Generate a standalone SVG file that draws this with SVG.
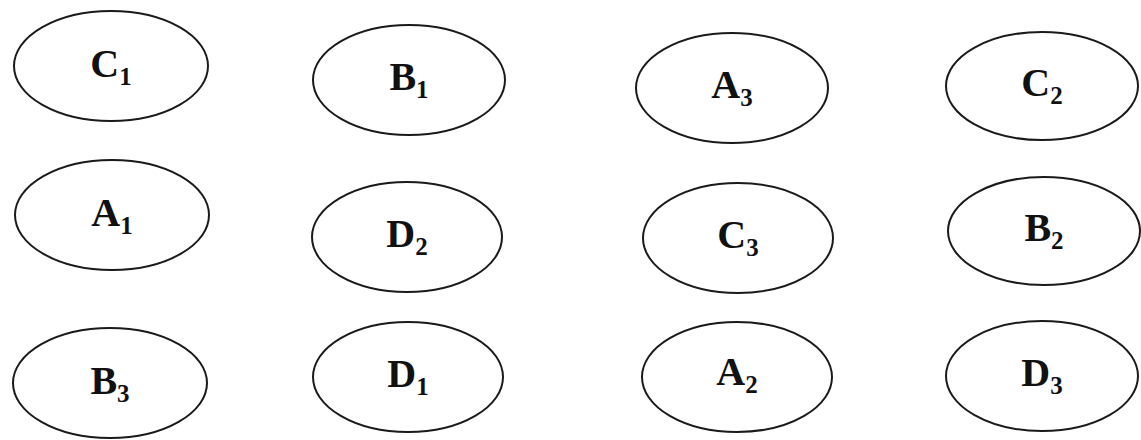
<svg xmlns="http://www.w3.org/2000/svg" width="1141" height="440" viewBox="0 0 1141 440">
<style>
  .node ellipse { fill: #ffffff; stroke: #1a1a1a; stroke-width: 2; }
  .lbl { font-family: "Liberation Serif", "Times New Roman", serif; font-weight: bold; font-size: 40px; fill: #111; text-anchor: middle; }
  .sub { font-size: 25px; }
</style>
<rect width="1141" height="440" fill="#ffffff"/>
<g id="connectors"></g>
<g id="C1" class="node"><ellipse cx="111" cy="66" rx="97" ry="55"/><text class="lbl" x="111" y="77">C<tspan class="sub" dy="8">1</tspan></text></g>
<g id="A1" class="node"><ellipse cx="112" cy="215" rx="97" ry="55"/><text class="lbl" x="112" y="226">A<tspan class="sub" dy="8">1</tspan></text></g>
<g id="B3" class="node"><ellipse cx="110" cy="383" rx="97" ry="55"/><text class="lbl" x="110" y="394">B<tspan class="sub" dy="8">3</tspan></text></g>
<g id="B1" class="node"><ellipse cx="409" cy="80" rx="96" ry="55"/><text class="lbl" x="409" y="90">B<tspan class="sub" dy="8">1</tspan></text></g>
<g id="D2" class="node"><ellipse cx="407" cy="237" rx="95" ry="55"/><text class="lbl" x="407" y="247">D<tspan class="sub" dy="8">2</tspan></text></g>
<g id="D1" class="node"><ellipse cx="408" cy="377" rx="95" ry="55"/><text class="lbl" x="408" y="387">D<tspan class="sub" dy="8">1</tspan></text></g>
<g id="A3" class="node"><ellipse cx="732" cy="88" rx="96" ry="55"/><text class="lbl" x="732" y="98">A<tspan class="sub" dy="8">3</tspan></text></g>
<g id="C3" class="node"><ellipse cx="738" cy="238" rx="95" ry="55"/><text class="lbl" x="738" y="248">C<tspan class="sub" dy="8">3</tspan></text></g>
<g id="A2" class="node"><ellipse cx="737" cy="377" rx="95" ry="55"/><text class="lbl" x="737" y="385">A<tspan class="sub" dy="8">2</tspan></text></g>
<g id="C2" class="node"><ellipse cx="1042" cy="86" rx="96" ry="54"/><text class="lbl" x="1042" y="96">C<tspan class="sub" dy="8">2</tspan></text></g>
<g id="B2" class="node"><ellipse cx="1044" cy="231" rx="96" ry="54"/><text class="lbl" x="1044" y="241">B<tspan class="sub" dy="8">2</tspan></text></g>
<g id="D3" class="node"><ellipse cx="1042" cy="376" rx="96" ry="55"/><text class="lbl" x="1042" y="386">D<tspan class="sub" dy="8">3</tspan></text></g>
</svg>
